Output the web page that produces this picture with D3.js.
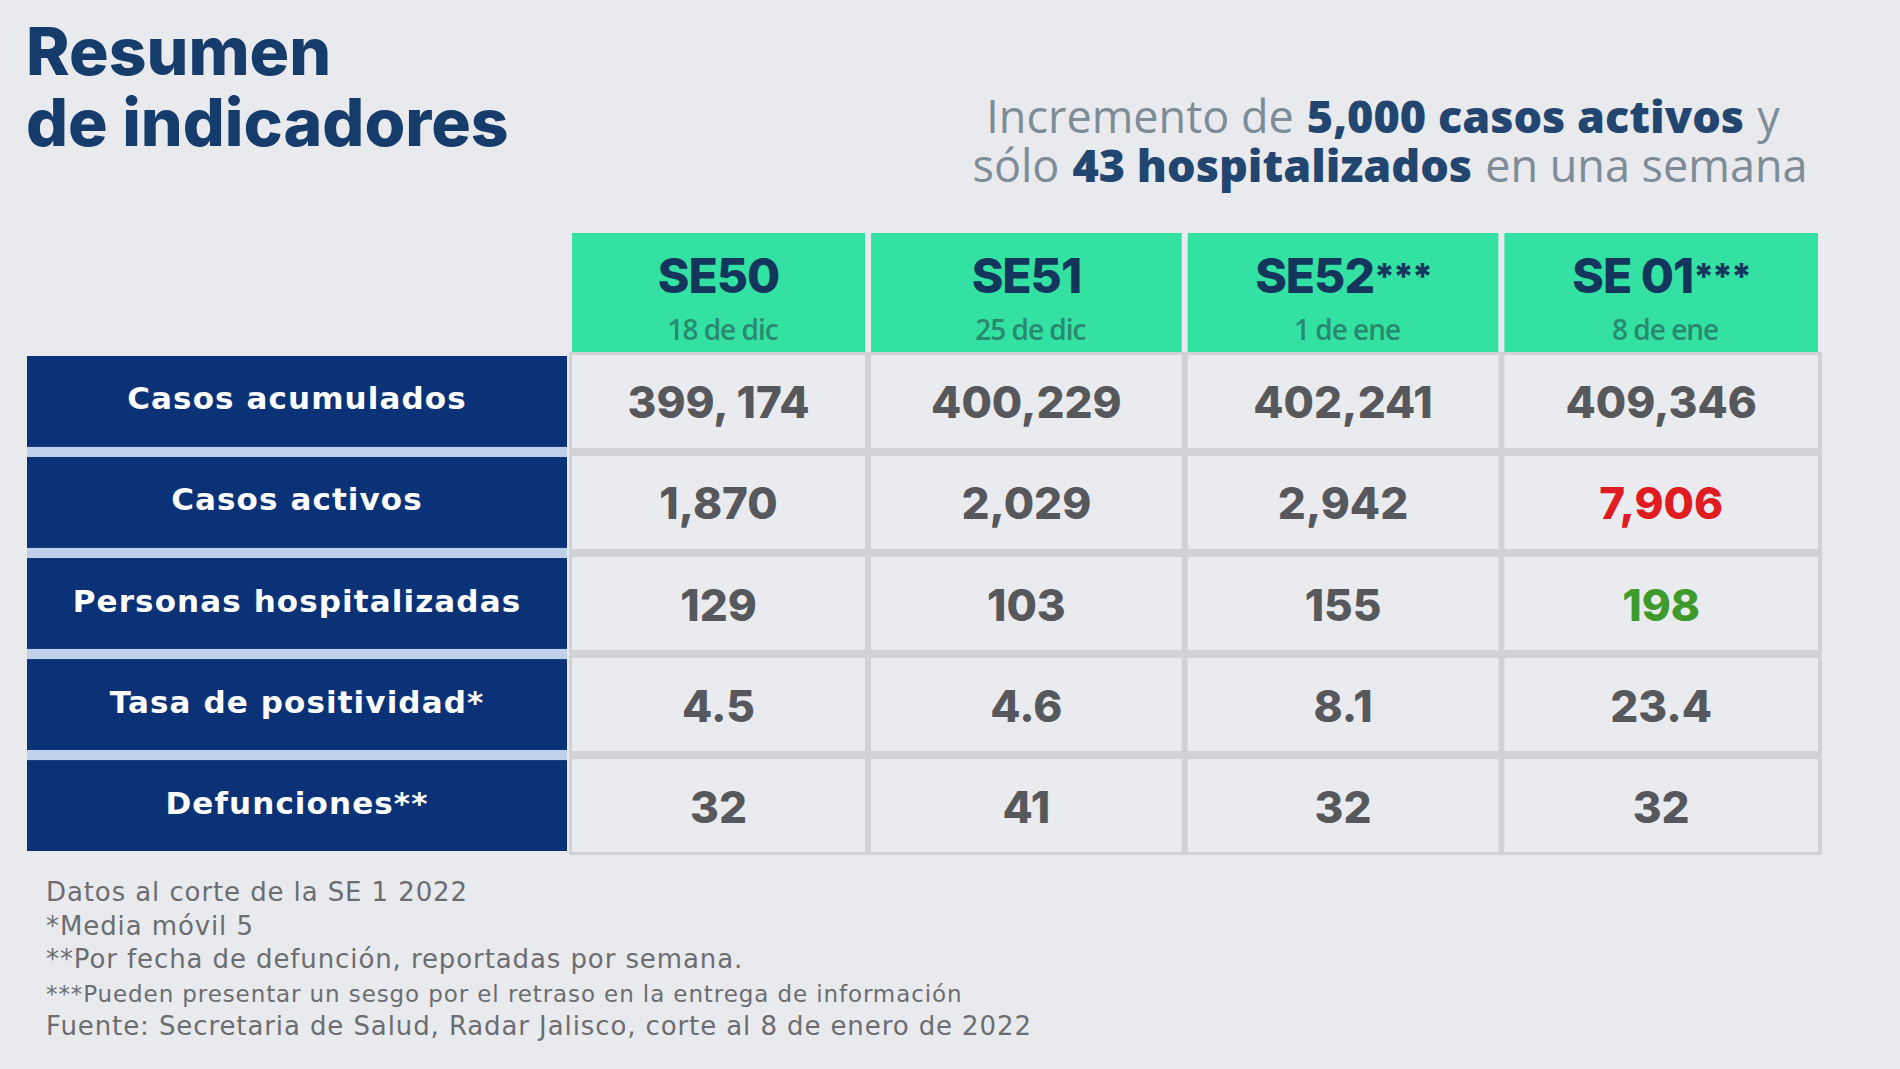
<!DOCTYPE html>
<html><head><meta charset="utf-8">
<script src="https://cdn.jsdelivr.net/npm/d3@7"></script>
<style>body{margin:0;background:#e9eaee;} svg{display:block}</style>
</head><body><svg id="c" width="1900" height="1069"></svg>
<script>
// ---- data ----
const weeks = ["SE50", "SE51", "SE52***", "SE 01***"];
const weekDates = ["18 de dic", "25 de dic", "1 de ene", "8 de ene"];
const indicators = ["Casos acumulados", "Casos activos", "Personas hospitalizadas", "Tasa de positividad*", "Defunciones**"];
const casosAcumulados = ["399, 174", "400,229", "402,241", "409,346"];
const casosActivos = ["1,870", "2,029", "2,942", "7,906"];
const personasHospitalizadas = ["129", "103", "155", "198"];
const tasaPositividad = ["4.5", "4.6", "8.1", "23.4"];
const defunciones = ["32", "41", "32", "32"];
const footnotes = [
  "Datos al corte de la SE 1 2022",
  "*Media móvil 5",
  "**Por fecha de defunción, reportadas por semana.",
  "***Pueden presentar un sesgo por el retraso en la entrega de información",
  "Fuente: Secretaria de Salud, Radar Jalisco, corte al 8 de enero de 2022"
];
const titleLines = ["Resumen", "de indicadores"];
const subtitle1 = [["Incremento de", false], ["5,000 casos activos", true], ["y", false]];
const subtitle2 = [["sólo", false], ["43 hospitalizados", true], ["en una semana", false]];

// ---- layout ----
const svg = d3.select("#c");
const rowsData = [casosAcumulados, casosActivos, personasHospitalizadas, tasaPositividad, defunciones];
const NAVY = "#0b3276", GREEN = "#33e1a3", TXT = "#57585b";

// first column of the table is slightly narrower than the others
const colWeight = [0.935, 1, 1, 1];
const colStart = d3.cumsum([0].concat(colWeight));
const xs = d3.scaleLinear().domain([0, d3.sum(colWeight)]).range([572, 1818]);
const GAP = 6;
const x = i => xs(colStart[i]) + (i === 0 ? 0 : GAP / 2);
const xw = i => xs(colStart[i + 1]) - xs(colStart[i]) - (i === 0 || i === 3 ? GAP / 2 : GAP);
const y = d3.scaleBand().domain(d3.range(indicators.length)).range([356, 851]).paddingInner(0.1);

// title
const t = svg.append("text").attr("fill", "#163c6c")
  .style("font-family", "Inter, 'Open Sans', sans-serif").style("font-weight", 800).style("font-size", "66px");
t.selectAll("tspan").data(titleLines).join("tspan")
  .attr("x", 26).attr("y", (d, i) => i === 0 ? 75 : 146).text(d => d);

// subtitle: each part as its own text, laid out centered with word gaps
[[subtitle1, 133, 1383], [subtitle2, 182, 1390]].forEach(([parts, yy, cxm]) => {
  const g = svg.append("g");
  const nodes = parts.map(p => g.append("text").attr("y", yy)
    .attr("fill", p[1] ? "#234670" : "#7d8c97")
    .style("font-family", "'Open Sans', sans-serif").style("font-size", "45px")
    .style("font-weight", p[1] ? 800 : 400)
    .text(p[0]));
  const widths = nodes.map(n => n.node().getComputedTextLength());
  const sp = 13;
  let cx = cxm - (d3.sum(widths) + sp * (parts.length - 1)) / 2;
  nodes.forEach((n, i) => { n.attr("x", cx); cx += widths[i] + sp; });
});

// header
const hdr = svg.append("g");
hdr.selectAll("rect").data(weeks).join("rect")
  .attr("x", (d, i) => x(i)).attr("y", 233).attr("width", (d, i) => xw(i)).attr("height", 121)
  .attr("fill", GREEN);
const wk = hdr.selectAll("text.wk").data(weeks).join("text").attr("class", "wk")
  .attr("x", (d, i) => x(i) + xw(i) / 2).attr("y", 293).attr("text-anchor", "middle")
  .attr("fill", "#15365c").style("font-family", "Inter, sans-serif").style("font-weight", 800)
  .style("font-size", "48px").style("letter-spacing", "-1px");
wk.append("tspan").text(d => d.replace(/\*+$/, ""));
wk.append("tspan").attr("dy", -4).style("font-size", "36px").style("letter-spacing", "-2px")
  .text(d => (d.match(/\*+$/) || [""])[0]);
hdr.selectAll("text.dt").data(weekDates).join("text").attr("class", "dt")
  .attr("x", (d, i) => x(i) + xw(i) / 2 + 4).attr("y", 340).attr("text-anchor", "middle")
  .attr("fill", "#2a8a70").style("font-family", "'Open Sans', sans-serif").style("font-weight", 600)
  .style("font-size", "28px").style("letter-spacing", "-1px").text(d => d);

// row labels
const lab = svg.append("g");
lab.selectAll("rect.sep").data(d3.range(indicators.length - 1)).join("rect").attr("class", "sep")
  .attr("x", 27).attr("width", 540).attr("y", i => y(i) + y.bandwidth()).attr("height", y.step() - y.bandwidth())
  .attr("fill", "#bfd0ea");
lab.selectAll("rect.nv").data(indicators).join("rect").attr("class", "nv")
  .attr("x", 27).attr("width", 540).attr("y", (d, i) => y(i)).attr("height", y.bandwidth())
  .attr("fill", NAVY);
lab.selectAll("text").data(indicators).join("text")
  .attr("x", 297).attr("y", (d, i) => y(i) + y.bandwidth() / 2 + 8).attr("text-anchor", "middle")
  .attr("fill", "#ffffff").style("font-family", "'DejaVu Sans', sans-serif").style("font-weight", 700)
  .style("font-size", "31px").style("letter-spacing", "1.1px").text(d => d);

// data cells
const cells = [];
rowsData.forEach((row, r) => row.forEach((v, c) => cells.push({ r, c, v })));
const highlight = { "1-3": "#e01b22", "2-3": "#3d9a2b" };
const grid = svg.append("g");
grid.append("rect").attr("x", 569).attr("y", y(0) - 4).attr("width", 1818 - 569 + 4).attr("height", 851 - y(0) + 8)
  .attr("fill", "#d1d2d6");
grid.selectAll("rect.cell").data(cells).join("rect").attr("class", "cell")
  .attr("x", d => x(d.c)).attr("y", d => y(d.r) - 1)
  .attr("width", d => xw(d.c))
  .attr("height", y.bandwidth() + 2)
  .attr("fill", "#eaebef");
grid.selectAll("text").data(cells).join("text")
  .attr("x", d => x(d.c) + xw(d.c) / 2).attr("y", d => y(d.r) + y.bandwidth() / 2 + 17)
  .attr("text-anchor", "middle")
  .attr("fill", d => highlight[d.r + "-" + d.c] || TXT)
  .style("font-family", "Inter, sans-serif").style("font-weight", 800).style("font-size", "44px")
  .style("letter-spacing", "0px").text(d => d.v);

// footnotes
svg.append("g").selectAll("text").data(footnotes).join("text")
  .attr("x", 46).attr("y", (d, i) => 901 + i * 33.5)
  .attr("fill", "#6c6d70").style("font-family", "'DejaVu Sans', sans-serif")
  .style("font-size", (d, i) => i === 3 ? "23px" : "26px")
  .style("letter-spacing", "0.9px").text(d => d);
</script></body></html>
